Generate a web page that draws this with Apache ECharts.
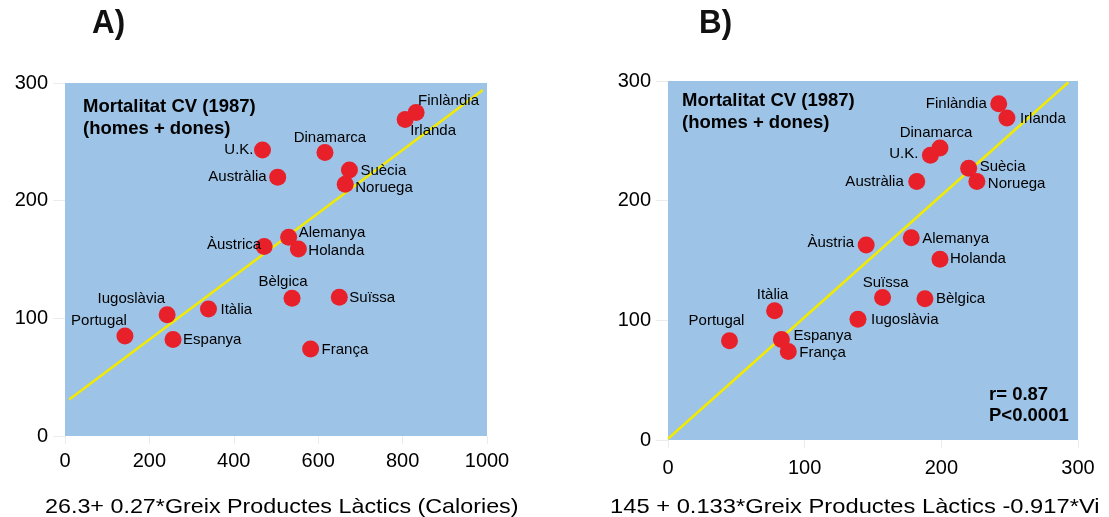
<!DOCTYPE html>
<html>
<head>
<meta charset="utf-8">
<script src="https://cdn.jsdelivr.net/npm/echarts@6/dist/echarts.min.js"></script>
<style>
  html, body { margin: 0; padding: 0; background: #fff; }
  #chart { width: 1109px; height: 517px; }
</style>
</head>
<body>
<div id="chart"></div>
<script>
// Panel A: CV mortality vs dairy-fat calories
const countriesA = ['Portugal', 'Iugoslàvia', 'Espanya', 'Itàlia', 'Àustrica', 'U.K.', 'Austràlia', 'Alemanya', 'Holanda', 'Bèlgica', 'França', 'Dinamarca', 'Suïssa', 'Suècia', 'Noruega', 'Irlanda', 'Finlàndia'];
const dairyFatA = [142, 242, 256, 340, 472, 468, 504, 530, 553, 538, 582, 616, 650, 674, 664, 806, 832];
const mortalityA = [85, 103, 82, 108, 161, 243, 220, 169, 159, 117, 74, 241, 118, 226, 214, 269, 275];
const fitLineA = [[10, 31], [990, 294]];

// Panel B: CV mortality vs combined dairy-fat / wine index
const countriesB = ['Portugal', 'Iugoslàvia', 'Espanya', 'Itàlia', 'Àustria', 'U.K.', 'Austràlia', 'Alemanya', 'Holanda', 'Bèlgica', 'França', 'Dinamarca', 'Suïssa', 'Suècia', 'Noruega', 'Irlanda', 'Finlàndia'];
const indexB = [45, 139, 83, 78, 145, 192, 182, 178, 199, 188, 88, 199, 157, 220, 226, 248, 242];
const mortalityB = [83, 101, 84, 108, 163, 238, 216, 169, 151, 118, 74, 244, 119, 227, 216, 269, 281];
const fitLineB = [[0, 1], [293, 299]];

const yTicks = [0, 100, 200, 300];
const xTicksA = [0, 200, 400, 600, 800, 1000];
const xTicksB = [0, 100, 200, 300];

const titleA = 'A)';
const titleB = 'B)';
const boxText = ['Mortalitat CV (1987)', '(homes + dones)'];
const statText = ['r= 0.87', 'P<0.0001'];
const xTitleA = '26.3+ 0.27*Greix Productes Làctics (Calories)';
const xTitleB = '145 + 0.133*Greix Productes Làctics -0.917*Vi';

// label placement around each dot: [dx, dy, align]
const labelPosA = {
  'Finlàndia': [2, -12, 'left'], 'Irlanda': [5, 11, 'left'], 'Dinamarca': [5, -15, 'center'],
  'U.K.': [-9, 0, 'right'], 'Austràlia': [-11, 0, 'right'], 'Suècia': [11, 1, 'left'],
  'Noruega': [10, 4, 'left'], 'Alemanya': [10, -4, 'left'], 'Holanda': [10, 2, 'left'],
  'Àustrica': [-3, -2, 'right'], 'Bèlgica': [-9, -16, 'center'], 'Suïssa': [10, 1, 'left'],
  'Iugoslàvia': [-2, -16, 'right'], 'Portugal': [2, -15, 'right'], 'Itàlia': [12, 1, 'left'],
  'Espanya': [10, 0, 'left'], 'França': [11, 1, 'left']
};
const labelPosB = {
  'Finlàndia': [-12, 0, 'right'], 'Irlanda': [13, 1, 'left'], 'Dinamarca': [-4, -15, 'center'],
  'U.K.': [-12, -1, 'right'], 'Austràlia': [-13, 0, 'right'], 'Suècia': [11, -1, 'left'],
  'Noruega': [11, 2, 'left'], 'Àustria': [-12, -2, 'right'], 'Alemanya': [11, 1, 'left'],
  'Holanda': [10, 0, 'left'], 'Suïssa': [3, -15, 'center'], 'Bèlgica': [11, 0, 'left'],
  'Iugoslàvia': [13, 1, 'left'], 'Itàlia': [-2, -16, 'center'], 'Portugal': [-13, -20, 'center'],
  'Espanya': [12, -4, 'left'], 'França': [11, 1, 'left']
};

const FONT = 'Liberation Sans';
const PLOT_BG = '#9DC3E6';
const DOT = '#E8202A';
const FIT = '#F2EA00';

function points(names, xs, ys, pos) {
  return names.map((n, i) => {
    const p = pos[n];
    return {
      name: n,
      value: [xs[i], ys[i]],
      label: { offset: [p[0], p[1]], align: p[2] }
    };
  });
}

function xAxisCfg(idx, ticks, margin) {
  return {
    gridIndex: idx, type: 'value',
    min: ticks[0], max: ticks[ticks.length - 1], interval: ticks[1] - ticks[0],
    axisLine: { show: false },
    axisTick: { show: true, length: 8, lineStyle: { color: '#ececec' } },
    splitLine: { show: false },
    axisLabel: { color: '#000', fontFamily: FONT, fontSize: 20, margin: margin, formatter: v => String(v) }
  };
}
function yAxisCfg(idx) {
  return {
    gridIndex: idx, type: 'value', min: yTicks[0], max: yTicks[yTicks.length - 1], interval: yTicks[1] - yTicks[0],
    axisLine: { show: false },
    axisTick: { show: true, length: 12, lineStyle: { color: '#ececec' } },
    splitLine: { show: false },
    axisLabel: { color: '#000', fontFamily: FONT, fontSize: 20, margin: 17, formatter: v => String(v) }
  };
}

const dotSeries = (idx, data) => ({
  type: 'scatter', xAxisIndex: idx, yAxisIndex: idx, z: 3,
  symbol: 'circle', symbolSize: 17,
  itemStyle: { color: DOT, opacity: 1 },
  label: {
    show: true, position: 'inside', formatter: '{b}',
    verticalAlign: 'middle',
    color: '#000', fontFamily: FONT, fontSize: 15
  },
  emphasis: { disabled: true },
  data: data
});
const fitSeries = (idx, data) => ({
  type: 'line', xAxisIndex: idx, yAxisIndex: idx, z: 2,
  showSymbol: false, symbol: 'none',
  lineStyle: { color: FIT, width: 2.5 },
  emphasis: { disabled: true },
  data: data
});

const chart = echarts.init(document.getElementById('chart'), null, { renderer: 'canvas' });
chart.setOption({
  animation: false,
  backgroundColor: '#fff',
  grid: [
    { left: 65, top: 83, width: 422, height: 353, show: true, backgroundColor: PLOT_BG, borderWidth: 0 },
    { left: 668, top: 81, width: 410, height: 359, show: true, backgroundColor: PLOT_BG, borderWidth: 0 }
  ],
  xAxis: [xAxisCfg(0, xTicksA, 15), xAxisCfg(1, xTicksB, 18)],
  yAxis: [yAxisCfg(0), yAxisCfg(1)],
  series: [
    fitSeries(0, fitLineA),
    dotSeries(0, points(countriesA, dairyFatA, mortalityA, labelPosA)),
    fitSeries(1, fitLineB),
    dotSeries(1, points(countriesB, indexB, mortalityB, labelPosB))
  ],
  graphic: [
    { type: 'text', x: 92, y: 7, scaleX: 0.95, style: { text: titleA, font: 'bold 33px ' + FONT, fill: '#111' } },
    { type: 'text', x: 699, y: 7, scaleX: 0.95, style: { text: titleB, font: 'bold 33px ' + FONT, fill: '#111' } },
    { type: 'text', left: 83, top: 96, z: 5, style: { text: boxText.join('\n'), font: 'bold 18.5px ' + FONT, lineHeight: 22, fill: '#000' } },
    { type: 'text', left: 682, top: 90, z: 5, style: { text: boxText.join('\n'), font: 'bold 18.5px ' + FONT, lineHeight: 22, fill: '#000' } },
    { type: 'text', left: 989, top: 384, z: 5, style: { text: statText.join('\n'), font: 'bold 18.5px ' + FONT, lineHeight: 21, fill: '#000' } },
    { type: 'text', x: 45, y: 507, scaleX: 1.11, style: { text: xTitleA, font: '21px ' + FONT, fill: '#000', align: 'left', verticalAlign: 'middle' } },
    { type: 'text', x: 610, y: 507, scaleX: 1.13, style: { text: xTitleB, font: '21px ' + FONT, fill: '#000', align: 'left', verticalAlign: 'middle' } }
  ]
});
</script>
</body>
</html>
